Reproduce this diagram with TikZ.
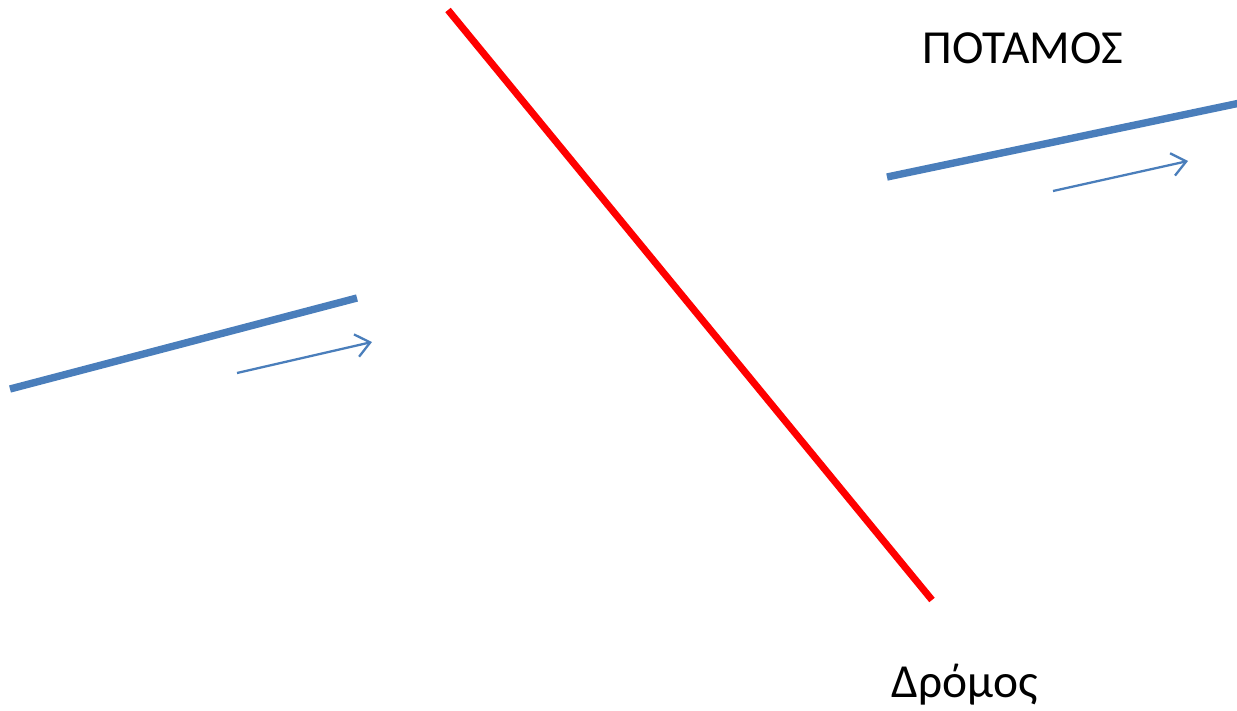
\documentclass[tikz,border=0pt]{standalone}
\usepackage{fontspec}
\setmainfont{Carlito}
\usetikzlibrary{arrows.meta}
\definecolor{riverblue}{RGB}{74,126,187}

\begin{document}
\begin{tikzpicture}[x=0.02cm,y=-0.02cm,
      road/.style={draw=red,line width=4pt},
      river/.style={draw=riverblue,line width=4.2pt},
      flow/.style={draw=riverblue,line width=1.3pt,-{Straight Barb[length=8pt,width=13pt]}},
      label node/.style={font=\fontsize{27}{32}\selectfont,anchor=base,inner sep=0pt}]

    \useasboundingbox (0,0) rectangle (1237,710);

    \coordinate (r1) at (448,10);
    \coordinate (r2) at (932,600);
    \coordinate (a1) at (10,389);
    \coordinate (a2) at (357,298);
    \coordinate (b1) at (887,177);
    \coordinate (b2) at (1240,103);
    \coordinate (f1) at (237,373);
    \coordinate (f2) at (372,342);
    \coordinate (g1) at (1053,191);
    \coordinate (g2) at (1188,161);

    \node[label node] (potamos) at (1023,63) {ΠΟΤΑΜΟΣ};
    \node[label node] (dromos) at (965,697) {Δρόμος};

    \draw[road] (r1) -- (r2);
    \draw[river] (a1) -- (a2);
    \draw[river] (b1) -- (b2);
    \draw[flow] (f1) -- (f2);
    \draw[flow] (g1) -- (g2);
\end{tikzpicture}
\end{document}
